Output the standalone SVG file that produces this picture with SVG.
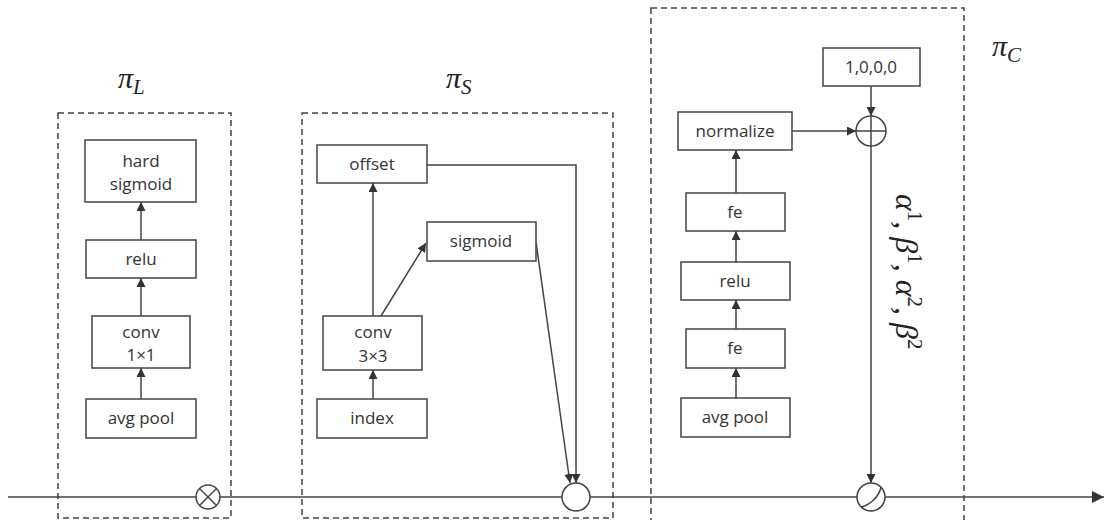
<svg xmlns="http://www.w3.org/2000/svg" width="1107" height="520" viewBox="0 0 1107 520">
<style>
.box{fill:#fff;stroke:#444;stroke-width:1.5}
.grp{fill:none;stroke:#444;stroke-width:1.5;stroke-dasharray:6,4}
.t{font-family:"Open Sans","Noto Sans",sans-serif;font-size:17px;fill:#333;text-anchor:middle}
.m{font-family:"Liberation Serif","DejaVu Serif",serif;font-style:italic;fill:#222}
.sup{font-style:normal;font-size:21px}
.ln{fill:none;stroke:#444;stroke-width:1.5}
.arr{fill:none;stroke:#444;stroke-width:1.5;marker-end:url(#ah)}
.op{fill:#fff;stroke:#444;stroke-width:1.5}
</style>
<defs>
<marker id="ah" viewBox="0 0 10 10" refX="10" refY="5" markerWidth="9" markerHeight="9" markerUnits="userSpaceOnUse" orient="auto">
<path d="M0,0 L10,5 L0,10 z" fill="#333"/>
</marker>
<marker id="ahBig" viewBox="0 0 10 10" refX="10" refY="5" markerWidth="12" markerHeight="12" markerUnits="userSpaceOnUse" orient="auto">
<path d="M0,0 L10,5 L0,10 z" fill="#333"/>
</marker>
</defs>
<rect width="1107" height="520" fill="#fff"/>

<g id="groups">
<rect class="grp" x="58" y="113" width="173" height="405"/>
<rect class="grp" x="302" y="113" width="311" height="405"/>
<rect class="grp" x="651" y="8" width="313" height="520"/>
<text class="m" x="118" y="88" font-size="30">π<tspan font-size="21" dy="6">L</tspan></text>
<text class="m" x="446" y="88" font-size="30">π<tspan font-size="21" dy="6">S</tspan></text>
<text class="m" x="992" y="56" font-size="30">π<tspan font-size="21" dy="6">C</tspan></text>
</g>

<g id="connectors">
<line class="ln" x1="8" y1="497" x2="1104" y2="497" style="marker-end:url(#ahBig)"/>
<line class="arr" x1="141" y1="399" x2="141" y2="368"/>
<line class="arr" x1="141" y1="316" x2="141" y2="278"/>
<line class="arr" x1="141" y1="240" x2="141" y2="202"/>
<line class="arr" x1="373" y1="399" x2="373" y2="370"/>
<line class="arr" x1="373" y1="316" x2="373" y2="183"/>
<line class="arr" x1="381" y1="316" x2="426" y2="243"/>
<polyline class="arr" points="427,165 576,165 576,483"/>
<line class="arr" x1="536" y1="242" x2="570" y2="483"/>
<line class="arr" x1="736" y1="398" x2="736" y2="368"/>
<line class="arr" x1="736" y1="329" x2="736" y2="300"/>
<line class="arr" x1="736" y1="262" x2="736" y2="231"/>
<line class="arr" x1="736" y1="193" x2="736" y2="150"/>
<line class="arr" x1="792" y1="131" x2="856" y2="131"/>
<line class="arr" x1="871" y1="86" x2="871" y2="116"/>
<line class="arr" x1="871" y1="146" x2="871" y2="483"/>
<text class="m" font-size="32" transform="translate(896,194) rotate(90)">α<tspan class="sup" dy="-12">1</tspan><tspan dy="12">, </tspan>β<tspan class="sup" dy="-12">1</tspan><tspan dy="12">, </tspan>α<tspan class="sup" dy="-12">2</tspan><tspan dy="12">, </tspan>β<tspan class="sup" dy="-12">2</tspan></text>
</g>

<g id="n_hardsigmoid"><rect class="box" x="85" y="140" width="111" height="62"/><text class="t" x="141" y="167">hard</text><text class="t" x="141" y="190">sigmoid</text></g>
<g id="n_reluL"><rect class="box" x="86" y="240" width="110" height="38"/><text class="t" x="141" y="265">relu</text></g>
<g id="n_conv1"><rect class="box" x="92" y="316" width="98" height="52"/><text class="t" x="141" y="338">conv</text><text class="t" x="141" y="361">1×1</text></g>
<g id="n_avgpoolL"><rect class="box" x="86" y="399" width="110" height="39"/><text class="t" x="141" y="424">avg pool</text></g>
<g id="op_mul"><circle class="op" cx="208" cy="497" r="12"/><path class="ln" d="M199.5,488.5 L216.5,505.5 M216.5,488.5 L199.5,505.5"/></g>

<g id="n_offset"><rect class="box" x="317" y="145" width="110" height="38"/><text class="t" x="372" y="170">offset</text></g>
<g id="n_sigmoid"><rect class="box" x="427" y="222" width="109" height="39"/><text class="t" x="481" y="247">sigmoid</text></g>
<g id="n_conv3"><rect class="box" x="323" y="316" width="99" height="54"/><text class="t" x="373" y="338">conv</text><text class="t" x="373" y="362">3×3</text></g>
<g id="n_index"><rect class="box" x="317" y="399" width="110" height="39"/><text class="t" x="372" y="424">index</text></g>
<g id="op_s"><circle class="op" cx="576" cy="497" r="14"/></g>

<g id="n_1000"><rect class="box" x="823" y="48" width="97" height="38"/><text class="t" x="871" y="73">1,0,0,0</text></g>
<g id="n_normalize"><rect class="box" x="678" y="112" width="114" height="38"/><text class="t" x="735" y="137">normalize</text></g>
<g id="op_add"><circle class="op" cx="871" cy="131" r="15"/><path class="ln" d="M856,131 L886,131 M871,116 L871,146"/></g>
<g id="n_fe2"><rect class="box" x="686" y="193" width="99" height="38"/><text class="t" x="735" y="218">fe</text></g>
<g id="n_reluC"><rect class="box" x="681" y="262" width="109" height="38"/><text class="t" x="735" y="287">relu</text></g>
<g id="n_fe1"><rect class="box" x="686" y="329" width="99" height="39"/><text class="t" x="735" y="354">fe</text></g>
<g id="n_avgpoolC"><rect class="box" x="681" y="398" width="109" height="39"/><text class="t" x="735" y="423">avg pool</text></g>
<g id="op_c"><circle class="op" cx="871" cy="497" r="14"/><path class="ln" d="M861,507 C870,505 879,497 881,487"/></g>
</svg>
